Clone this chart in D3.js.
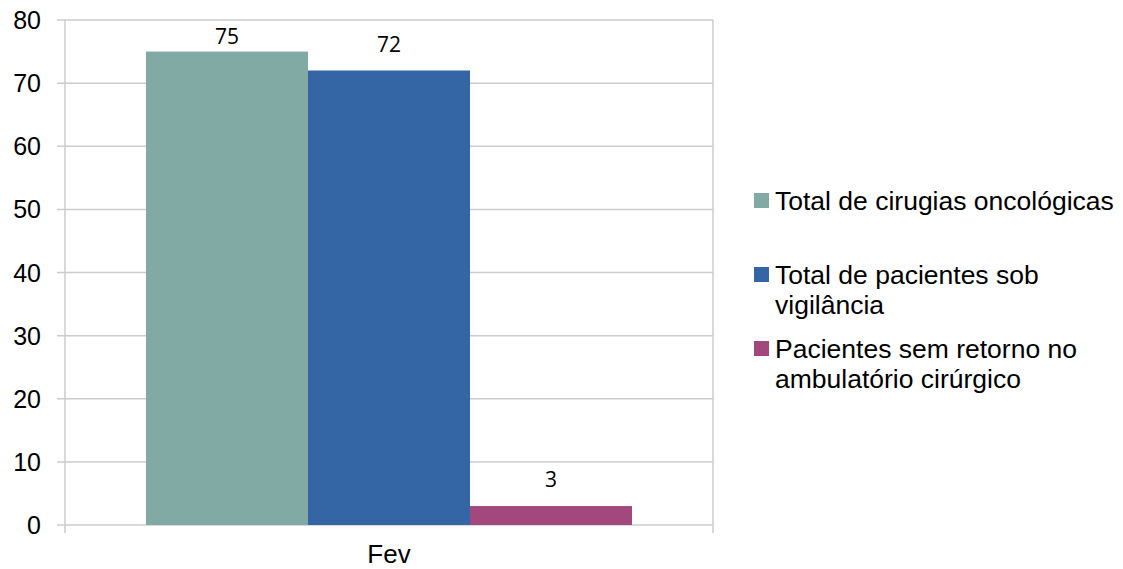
<!DOCTYPE html>
<html>
<head>
<meta charset="utf-8">
<script src="https://cdn.jsdelivr.net/npm/d3@7"></script>
<style>
  html, body { margin: 0; padding: 0; background: #ffffff; }
  svg { display: block; }
</style>
</head>
<body>
<svg id="chart" width="1123" height="569"></svg>
<script>
// Chart data
const categories = ["Fev"];
const seriesNames = [
  "Total de cirugias oncológicas",
  "Total de pacientes sob vigilância",
  "Pacientes sem retorno no ambulatório cirúrgico"
];
const seriesValues = [75, 72, 3];
const seriesColors = ["#81aaa5", "#3465a5", "#a2487d"];
const yTicks = [0, 10, 20, 30, 40, 50, 60, 70, 80];
// Legend labels broken into lines
const legendLines = [
  ["Total de cirugias oncológicas"],
  ["Total de pacientes sob", "vigilância"],
  ["Pacientes sem retorno no", "ambulatório cirúrgico"]
];

const svg = d3.select("#chart");
const plot = { left: 65, right: 713, top: 20, bottom: 525 };
const gridColor = "#cccccc";
const axisFont = "'Liberation Sans', Arial, sans-serif";

const y = d3.scaleLinear().domain([0, 80]).range([plot.bottom, plot.top]);
const x0 = d3.scaleBand().domain(categories).range([plot.left, plot.right]).paddingInner(0).paddingOuter(0);

// Horizontal gridlines with left tick stubs
svg.append("g")
  .selectAll("line")
  .data(yTicks)
  .join("line")
  .attr("x1", plot.left - 8)
  .attr("x2", plot.right)
  .attr("y1", d => y(d))
  .attr("y2", d => y(d))
  .attr("stroke", gridColor)
  .attr("stroke-width", 1.5);

// Vertical axis and category boundary lines
svg.append("g")
  .selectAll("line")
  .data([plot.left, plot.right])
  .join("line")
  .attr("x1", d => d).attr("x2", d => d)
  .attr("y1", plot.top).attr("y2", plot.bottom + 8)
  .attr("stroke", gridColor)
  .attr("stroke-width", 1.5);

// Y tick labels
svg.append("g")
  .selectAll("text")
  .data(yTicks)
  .join("text")
  .attr("x", 41)
  .attr("y", d => y(d))
  .attr("dy", "0.36em")
  .attr("text-anchor", "end")
  .attr("font-family", axisFont)
  .attr("font-size", 25)
  .attr("fill", "#000")
  .text(d => d);

// Bars: three series side by side, a quarter of the category width each
const barW = x0.bandwidth() * 0.25;
const barStart = x0(categories[0]) + x0.bandwidth() * 0.125;
const bars = seriesValues.map((v, i) => ({ v, i }));
svg.append("g")
  .selectAll("rect")
  .data(bars)
  .join("rect")
  .attr("x", d => barStart + d.i * barW)
  .attr("y", d => y(d.v))
  .attr("width", barW)
  .attr("height", d => y(0) - y(d.v))
  .attr("fill", d => seriesColors[d.i]);

// Value labels
svg.append("g")
  .selectAll("text")
  .data(bars)
  .join("text")
  .attr("x", d => barStart + d.i * barW + barW / 2)
  .attr("y", d => Math.max(y(d.v) - 19, 44))
  .attr("text-anchor", "middle")
  .attr("font-family", "'Open Sans', sans-serif")
  .attr("font-size", 21)
  .attr("fill", "#000")
  .text(d => d.v);

// Category label
svg.append("text")
  .attr("x", x0(categories[0]) + x0.bandwidth() / 2)
  .attr("y", 563)
  .attr("text-anchor", "middle")
  .attr("font-family", axisFont)
  .attr("font-size", 26)
  .attr("fill", "#000")
  .text(categories[0]);

// Legend
const legendTop = [210, 284, 358];
const legend = svg.append("g");
legendLines.forEach((lines, i) => {
  legend.append("rect")
    .attr("x", 754)
    .attr("y", legendTop[i] - 17)
    .attr("width", 15)
    .attr("height", 15)
    .attr("fill", seriesColors[i]);
  lines.forEach((ln, j) => {
    legend.append("text")
      .attr("x", 775)
      .attr("y", legendTop[i] + j * 30)
      .attr("font-family", axisFont)
      .attr("font-size", 26.5)
      .attr("fill", "#000")
      .text(ln);
  });
});
</script>
</body>
</html>
